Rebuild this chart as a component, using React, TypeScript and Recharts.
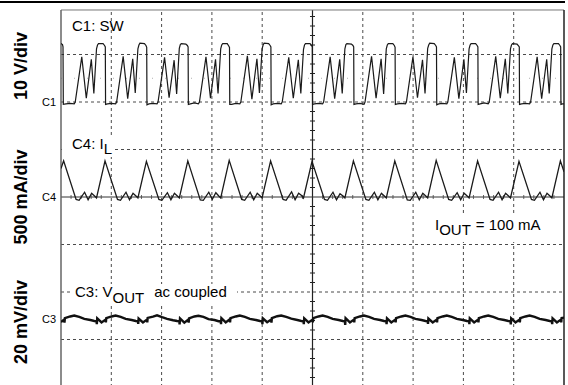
import { ComposedChart, Line, XAxis, YAxis, ReferenceLine } from 'recharts';

// time axis: 1 us/div, 10 divisions; screen: 8 vertical divisions
const timeGrid = [1, 2, 3, 4, 6, 7, 8, 9];
const divGrid = [-3, -2, -1, 1, 2, 3];

// C1: SW node, volts (10 V/div, ground at +2 div)
const swTrace: [number, number][] = [
  [0, 12.3], [0.03, 12.1], [0.04, 11.6], [0.046, -0.5], [0.1, -0.4], [0.18, -0.3], [0.263, -0.4], [0.283, 0],
  [0.413, 9.5], [0.503, 0.8], [0.603, 9.0], [0.653, 1.8],
  [0.706, 11.2], [0.726, 12.0], [0.746, 12.3], [0.836, 12.3], [0.866, 11.9], [0.881, 11.6], [0.886, -0.5], [0.926, -0.4], [1.006, -0.3], [1.086, -0.4], [1.106, 0], [1.236, 9.6], [1.326, 0.7], [1.426, 9.1], [1.476, 1.9],
  [1.529, 11.2], [1.549, 12.0], [1.569, 12.4], [1.659, 12.3], [1.689, 11.9], [1.704, 11.5], [1.709, -0.6], [1.749, -0.4], [1.829, -0.3], [1.909, -0.4], [1.929, 0], [2.059, 9.4], [2.149, 0.9], [2.249, 8.8], [2.299, 1.7],
  [2.352, 11.3], [2.372, 12.1], [2.392, 12.3], [2.482, 12.2], [2.512, 11.9], [2.527, 11.6], [2.532, -0.5], [2.572, -0.4], [2.652, -0.2], [2.732, -0.4], [2.752, 0], [2.882, 9.5], [2.972, 0.8], [3.072, 9.0], [3.122, 1.8],
  [3.175, 11.2], [3.195, 12.0], [3.215, 12.3], [3.305, 12.3], [3.335, 11.8], [3.35, 11.5], [3.355, -0.5], [3.395, -0.5], [3.475, -0.3], [3.555, -0.4], [3.575, 0], [3.705, 9.7], [3.795, 0.6], [3.895, 9.1], [3.945, 1.9],
  [3.998, 11.2], [4.018, 12.0], [4.038, 12.4], [4.128, 12.3], [4.158, 11.9], [4.173, 11.6], [4.178, -0.6], [4.218, -0.4], [4.298, -0.3], [4.378, -0.4], [4.398, 0], [4.528, 9.4], [4.618, 0.8], [4.718, 8.9], [4.768, 1.8],
  [4.821, 11.1], [4.841, 12.0], [4.861, 12.3], [4.951, 12.3], [4.981, 11.9], [4.996, 11.6], [5.001, -0.5], [5.041, -0.4], [5.121, -0.3], [5.201, -0.4], [5.221, 0], [5.351, 9.5], [5.441, 0.7], [5.541, 9.0], [5.591, 1.8],
  [5.644, 11.2], [5.664, 12.1], [5.684, 12.3], [5.774, 12.2], [5.804, 11.9], [5.819, 11.6], [5.824, -0.5], [5.864, -0.4], [5.944, -0.3], [6.024, -0.5], [6.044, 0], [6.174, 9.6], [6.264, 0.8], [6.364, 9.1], [6.414, 1.7],
  [6.467, 11.2], [6.487, 12.0], [6.507, 12.3], [6.597, 12.3], [6.627, 11.9], [6.642, 11.5], [6.647, -0.5], [6.687, -0.4], [6.767, -0.3], [6.847, -0.4], [6.867, 0], [6.997, 9.5], [7.087, 0.9], [7.187, 8.9], [7.237, 1.8],
  [7.29, 11.3], [7.31, 12.0], [7.33, 12.4], [7.42, 12.3], [7.45, 11.9], [7.465, 11.6], [7.47, -0.6], [7.51, -0.4], [7.59, -0.3], [7.67, -0.4], [7.69, 0], [7.82, 9.4], [7.91, 0.7], [8.01, 9.0], [8.06, 1.9],
  [8.113, 11.2], [8.133, 12.0], [8.153, 12.3], [8.243, 12.3], [8.273, 11.9], [8.288, 11.6], [8.293, -0.5], [8.333, -0.4], [8.413, -0.2], [8.493, -0.4], [8.513, 0], [8.643, 9.6], [8.733, 0.8], [8.833, 9.1], [8.883, 1.8],
  [8.936, 11.2], [8.956, 12.0], [8.976, 12.3], [9.066, 12.2], [9.096, 11.8], [9.111, 11.6], [9.116, -0.5], [9.156, -0.4], [9.236, -0.3], [9.316, -0.4], [9.336, 0], [9.466, 9.5], [9.556, 0.7], [9.656, 9.0], [9.706, 1.8],
  [9.759, 11.2], [9.779, 12.0], [9.799, 12.3], [9.889, 12.3], [9.919, 11.9], [9.934, 11.6], [9.939, -0.5], [9.97, -0.4], [10, -0.4],
];

// C4: inductor current, mA (500 mA/div, zero at center)
const ilTrace: [number, number][] = [
  [0, 300], [0.052, 380], [0.3, -25], [0.36, -35], [0.469, 50], [0.539, -30], [0.609, 40], [0.668, 10],
  [0.706, -10], [0.875, 380], [1.123, -25], [1.183, -35], [1.292, 50], [1.362, -30], [1.432, 40], [1.491, 10],
  [1.529, -10], [1.698, 375], [1.946, -25], [2.006, -35], [2.115, 45], [2.185, -30], [2.255, 40], [2.314, 10],
  [2.352, -10], [2.521, 380], [2.769, -30], [2.829, -35], [2.938, 50], [3.008, -25], [3.078, 45], [3.137, 10],
  [3.175, -10], [3.344, 385], [3.592, -25], [3.652, -35], [3.761, 50], [3.831, -30], [3.901, 40], [3.96, 10],
  [3.998, -10], [4.167, 380], [4.415, -25], [4.475, -35], [4.584, 55], [4.654, -30], [4.724, 40], [4.783, 15],
  [4.821, -10], [4.99, 375], [5.238, -25], [5.298, -35], [5.407, 50], [5.477, -30], [5.547, 35], [5.606, 10],
  [5.644, -10], [5.813, 380], [6.061, -25], [6.121, -35], [6.23, 50], [6.3, -30], [6.37, 40], [6.429, 10],
  [6.467, -10], [6.636, 380], [6.884, -30], [6.944, -35], [7.053, 50], [7.123, -30], [7.193, 40], [7.252, 10],
  [7.29, -10], [7.459, 385], [7.707, -25], [7.767, -35], [7.876, 45], [7.946, -30], [8.016, 40], [8.075, 10],
  [8.113, -10], [8.282, 380], [8.53, -25], [8.59, -35], [8.699, 50], [8.769, -30], [8.839, 40], [8.898, 10],
  [8.936, -10], [9.105, 375], [9.353, -25], [9.413, -35], [9.522, 50], [9.592, -30], [9.662, 40], [9.721, 10],
  [9.759, -10], [9.928, 380], [10, 265],
];

// C3: output voltage, ac coupled, mV (20 mV/div)
const voutTrace: [number, number][] = [
  [0, -0.6], [0.063, 0.4], [0.069, -0.9], [0.077, 1.0], [0.183, 1.7], [0.263, 2.1], [0.363, 1.5], [0.463, 0.7], [0.583, 0.2], [0.663, -0.2],
  [0.706, -0.3], [0.712, -1.5], [0.72, 0.9], [0.806, -0.8], [0.886, 0.4], [0.892, -0.8], [0.9, 1.0], [1.006, 1.7], [1.086, 2.1], [1.186, 1.5], [1.286, 0.7], [1.406, 0.2], [1.486, -0.2],
  [1.529, -0.3], [1.535, -1.4], [1.543, 0.8], [1.629, -0.8], [1.709, 0.4], [1.715, -0.8], [1.723, 1.1], [1.829, 1.6], [1.909, 2.2], [2.009, 1.4], [2.109, 0.7], [2.229, 0.1], [2.309, -0.2],
  [2.352, -0.3], [2.358, -1.6], [2.366, 0.9], [2.452, -0.9], [2.532, 0.4], [2.538, -0.9], [2.546, 0.9], [2.652, 1.7], [2.732, 2.0], [2.832, 1.5], [2.932, 0.6], [3.052, 0.2], [3.132, -0.3],
  [3.175, -0.3], [3.181, -1.5], [3.189, 1.0], [3.275, -0.8], [3.355, 0.5], [3.361, -0.8], [3.369, 1.0], [3.475, 1.7], [3.555, 2.1], [3.655, 1.5], [3.755, 0.7], [3.875, 0.2], [3.955, -0.2],
  [3.998, -0.3], [4.004, -1.5], [4.012, 0.9], [4.098, -0.7], [4.178, 0.4], [4.184, -0.9], [4.192, 1.0], [4.298, 1.8], [4.378, 2.1], [4.478, 1.5], [4.578, 0.8], [4.698, 0.2], [4.778, -0.2],
  [4.821, -0.3], [4.827, -1.5], [4.835, 0.9], [4.921, -0.8], [5.001, 0.4], [5.007, -0.8], [5.015, 1.0], [5.121, 1.7], [5.201, 2.1], [5.301, 1.5], [5.401, 0.7], [5.521, 0.2], [5.601, -0.2],
  [5.644, -0.3], [5.65, -1.9], [5.658, 1.0], [5.744, -0.8], [5.824, 0.4], [5.83, -0.8], [5.838, 1.0], [5.944, 1.7], [6.024, 2.1], [6.124, 1.5], [6.224, 0.7], [6.344, 0.2], [6.424, -0.2],
  [6.467, -0.3], [6.473, -1.5], [6.481, 0.9], [6.567, -0.8], [6.647, 0.4], [6.653, -0.8], [6.661, 1.0], [6.767, 1.7], [6.847, 2.1], [6.947, 1.5], [7.047, 0.7], [7.167, 0.2], [7.247, -0.2],
  [7.29, -0.3], [7.296, -1.4], [7.304, 0.8], [7.39, -0.8], [7.47, 0.4], [7.476, -0.8], [7.484, 1.0], [7.59, 1.7], [7.67, 2.1], [7.77, 1.5], [7.87, 0.7], [7.99, 0.2], [8.07, -0.2],
  [8.113, -0.3], [8.119, -1.5], [8.127, 0.9], [8.213, -0.8], [8.293, 0.4], [8.299, -0.8], [8.307, 1.0], [8.413, 1.7], [8.493, 2.1], [8.593, 1.5], [8.693, 0.7], [8.813, 0.2], [8.893, -0.2],
  [8.936, -0.3], [8.942, -1.6], [8.95, 0.9], [9.036, -0.8], [9.116, 0.4], [9.122, -0.8], [9.13, 1.0], [9.236, 1.7], [9.316, 2.1], [9.416, 1.5], [9.516, 0.7], [9.636, 0.2], [9.716, -0.2],
  [9.759, -0.3], [9.765, -1.5], [9.773, 0.9], [9.859, -0.8], [9.939, 0.4], [9.945, -0.8], [9.953, 1.0], [10, 1.2],
];

const toPoints = (pairs: [number, number][]) => pairs.map(([t, v]) => ({ t, v }));
const swData = toPoints(swTrace);
const ilData = toPoints(ilTrace);
const voutData = toPoints(voutTrace);

const FONT = '"Liberation Sans", Arial, sans-serif';
const FRAME_TOP = 3.937;
const GRID = '#4a4a4a';

// minor ticks on the centre cross (0.2 div)
const minorY: number[] = [];
for (let i = -19; i <= 19; i++) if (i % 5 !== 0) minorY.push(i / 5);
const minorX: number[] = [];
for (let i = 1; i < 50; i++) if (i % 5 !== 0) minorX.push(i / 5);

const sideLabel = (text: string, cy: number) => (
  <div
    style={{
      position: 'absolute', left: 21, top: cy, transform: 'translate(-50%, -50%) rotate(-90deg)',
      fontWeight: 'bold', fontSize: 18, lineHeight: '18px', whiteSpace: 'nowrap',
    }}
  >
    {text}
  </div>
);

const chLabel = (text: string, top: number) => (
  <div style={{ position: 'absolute', left: 42, top, fontSize: 11, lineHeight: '11px' }}>{text}</div>
);

export default function App() {
  return (
    <div
      style={{
        position: 'fixed', left: 0, top: 0, width: 568, height: 385, overflow: 'hidden',
        background: '#fff', fontFamily: FONT, color: '#000',
      }}
    >
      <div style={{ position: 'absolute', left: 0, top: 1, width: 565, borderTop: '2px solid #000' }} />
      <ComposedChart width={568} height={400} margin={{ top: 7, right: 4, left: 61, bottom: 13 }}>
        <XAxis type="number" dataKey="t" domain={[0, 10]} hide allowDataOverflow />
        <YAxis yAxisId="div" type="number" domain={[-4, 4]} hide allowDataOverflow />
        <YAxis yAxisId="sw" type="number" domain={[-60, 20]} hide allowDataOverflow />
        <YAxis yAxisId="il" type="number" domain={[-2000, 2000]} hide allowDataOverflow />
        <YAxis yAxisId="vout" type="number" domain={[-28, 132]} hide allowDataOverflow />

        {timeGrid.map((x) => (
          <ReferenceLine key={'gx' + x} yAxisId="div" segment={[{ x, y: -4 }, { x, y: FRAME_TOP }]} stroke={GRID} strokeDasharray="3 3" />
        ))}
        {divGrid.map((y) => (
          <ReferenceLine key={'gy' + y} yAxisId="div" y={y} stroke={GRID} strokeDasharray="3 3" />
        ))}
        <ReferenceLine yAxisId="div" y={2.5} stroke="#b0b0b0" strokeDasharray="1 12" />
        <ReferenceLine yAxisId="div" segment={[{ x: 5, y: -4 }, { x: 5, y: FRAME_TOP }]} stroke="#222" strokeWidth={1.2} />
        <ReferenceLine yAxisId="div" y={0} stroke="#333" strokeWidth={1} />
        {minorY.map((y) => (
          <ReferenceLine key={'my' + y} yAxisId="div" segment={[{ x: 4.95, y }, { x: 5.05, y }]} stroke="#222" />
        ))}
        {minorX.map((x) => (
          <ReferenceLine key={'mx' + x} yAxisId="div" segment={[{ x, y: -0.04 }, { x, y: 0.04 }]} stroke="#555" />
        ))}
        <ReferenceLine yAxisId="div" segment={[{ x: 0, y: FRAME_TOP }, { x: 10, y: FRAME_TOP }]} stroke="#777" />
        <ReferenceLine yAxisId="div" segment={[{ x: 0, y: -4 }, { x: 0, y: FRAME_TOP }]} stroke="#666" strokeWidth={1.5} />
        <ReferenceLine yAxisId="div" segment={[{ x: 10, y: -4 }, { x: 10, y: FRAME_TOP }]} stroke="#222" strokeWidth={1.5} />

        <Line yAxisId="sw" data={swData} dataKey="v" type="linear" stroke="#1a1a1a" strokeWidth={1.2} dot={false} isAnimationActive={false} />
        <Line yAxisId="il" data={ilData} dataKey="v" type="linear" stroke="#1a1a1a" strokeWidth={1.3} dot={false} isAnimationActive={false} />
        <Line yAxisId="vout" data={voutData} dataKey="v" type="linear" stroke="#111" strokeWidth={2.4} dot={false} isAnimationActive={false} />
      </ComposedChart>

      {sideLabel('10 V/div', 66)}
      {sideLabel('500 mA/div', 197)}
      {sideLabel('20 mV/div', 322)}
      {chLabel('C1', 97)}
      {chLabel('C4', 192)}
      {chLabel('C3', 314)}

      <div style={{ position: 'absolute', left: 72, top: 18, fontSize: 15, lineHeight: '15px', whiteSpace: 'nowrap' }}>C1: SW</div>
      <div style={{ position: 'absolute', left: 62, top: 136, height: 21, paddingLeft: 10, paddingRight: 1, fontSize: 15, lineHeight: '15px', whiteSpace: 'nowrap', background: '#fff' }}>
        C4: I<span style={{ position: 'relative', top: 5 }}>L</span>
      </div>
      <div style={{ position: 'absolute', left: 72, top: 284, height: 22, paddingLeft: 3, paddingRight: 10, fontSize: 15, lineHeight: '15px', whiteSpace: 'nowrap', background: '#fff' }}>
        C3: V<span style={{ position: 'relative', top: 6 }}>OUT</span>
        <span style={{ marginLeft: 10 }}>ac coupled</span>
      </div>
      <div style={{ position: 'absolute', left: 432, top: 213, height: 25, paddingTop: 4, paddingLeft: 3, paddingRight: 4, fontSize: 15, lineHeight: '15px', whiteSpace: 'nowrap', background: '#fff' }}>
        I<span style={{ position: 'relative', top: 5 }}>OUT</span>
        <span style={{ marginLeft: 5 }}>= 100 mA</span>
      </div>
    </div>
  );
}
